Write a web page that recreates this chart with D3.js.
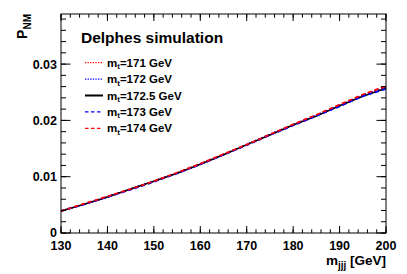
<!DOCTYPE html>
<html>
<head>
<meta charset="utf-8">
<script src="https://cdnjs.cloudflare.com/ajax/libs/d3/7.8.5/d3.min.js"></script>
<style>
  body { margin: 0; background: #fff; }
  svg text { font-family: "Liberation Sans", Arial, sans-serif; }
</style>
</head>
<body>
<div class="wrapper"></div>
<script>
// data (5 GeV steps)
var mjjj = [130, 135, 140, 145, 150, 155, 160, 165, 170, 175, 180, 185, 190, 195, 200];
var p171 = [0.0039, 0.0051, 0.0064, 0.0078, 0.0092, 0.0107, 0.0123, 0.0140, 0.0157, 0.0175, 0.0192, 0.0209, 0.0227, 0.0245, 0.0260];
var p172 = [0.0039, 0.0051, 0.0064, 0.0078, 0.0092, 0.0106, 0.0122, 0.0139, 0.0157, 0.0175, 0.0192, 0.0209, 0.0226, 0.0244, 0.0258];
var p1725 = [0.0039, 0.0051, 0.0064, 0.0078, 0.0092, 0.0106, 0.0122, 0.0139, 0.0157, 0.0174, 0.0192, 0.0208, 0.0226, 0.0243, 0.0257];
var p173 = [0.0039, 0.0051, 0.0064, 0.0077, 0.0091, 0.0106, 0.0122, 0.0139, 0.0156, 0.0174, 0.0191, 0.0208, 0.0225, 0.0243, 0.0256];
var p174 = [0.0039, 0.0052, 0.0065, 0.0078, 0.0092, 0.0107, 0.0123, 0.0140, 0.0157, 0.0175, 0.0193, 0.0210, 0.0228, 0.0246, 0.0261];

var seriesNames = ["171", "172", "172.5", "173", "174"];
var seriesValues = [p171, p172, p1725, p173, p174];
var seriesColors = ["#ff0000", "#0000ff", "#000000", "#0000ff", "#ff0000"];
var seriesDash = ["1.5,2", "1.5,2", null, "4,3", "4,3"];

var xTicks = [130, 140, 150, 160, 170, 180, 190, 200];
var yTicks = [0, 0.01, 0.02, 0.03];

var margin = {top: 14, right: 21, bottom: 41, left: 61},
    width = 407 - margin.left - margin.right,
    height = 274 - margin.top - margin.bottom;

var svg = d3.select(".wrapper")
  .append("svg")
    .attr("width", 407)
    .attr("height", 274)
  .append("g")
    .attr("transform", "translate(" + margin.left + "," + margin.top + ")");

var x = d3.scaleLinear().domain([130, 200]).range([0, width]);
var y = d3.scaleLinear().domain([0, 0.0389]).range([height, 0]);

// curves
var line = d3.line()
    .x(function(d) { return x(d[0]); })
    .y(function(d) { return y(d[1]); });

seriesValues.forEach(function(vals, i) {
  svg.append("path")
    .datum(mjjj.map(function(m, j) { return [m, vals[j]]; }))
    .attr("d", line)
    .style("fill", "none")
    .style("stroke", seriesColors[i])
    .style("stroke-width", i == 2 ? 1.6 : 1.8)
    .style("stroke-dasharray", seriesDash[i]);
});

// frame
svg.append("rect")
  .attr("width", width).attr("height", height)
  .style("fill", "none").style("stroke", "#000").style("stroke-width", 1);

// ticks on all four sides (major + minor)
var xMinor = d3.range(130, 200.1, 2);
var yMinor = d3.range(0, 0.0389, 0.002);

function drawTicks(vals, isX, len) {
  vals.forEach(function(v) {
    if (isX) {
      var px = x(v);
      svg.append("line").attr("x1", px).attr("x2", px).attr("y1", height).attr("y2", height - len).style("stroke", "#000");
      svg.append("line").attr("x1", px).attr("x2", px).attr("y1", 0).attr("y2", len).style("stroke", "#000");
    } else {
      var py = y(v);
      svg.append("line").attr("x1", 0).attr("x2", len).attr("y1", py).attr("y2", py).style("stroke", "#000");
      svg.append("line").attr("x1", width).attr("x2", width - len).attr("y1", py).attr("y2", py).style("stroke", "#000");
    }
  });
}
drawTicks(xMinor, true, 3.7);
drawTicks(xTicks, true, 7);
drawTicks(yMinor, false, 5);
drawTicks(yTicks, false, 9.5);

// tick labels
svg.selectAll(".xlab").data(xTicks).enter().append("text")
  .attr("x", function(d) { return x(d); })
  .attr("y", height + 17)
  .attr("text-anchor", "middle")
  .style("font-size", "12.5px").style("font-weight", "bold")
  .text(function(d) { return d; });

svg.selectAll(".ylab").data(yTicks).enter().append("text")
  .attr("x", -4)
  .attr("y", function(d) { return y(d) + (d == 0 ? 3.5 : 4.5); })
  .attr("text-anchor", "end")
  .style("font-size", "12.5px").style("font-weight", "bold")
  .text(function(d) { return d == 0 ? "0" : d.toFixed(2); });

// axis titles
var xt = svg.append("text")
  .attr("x", width).attr("y", height + 32)
  .attr("text-anchor", "end")
  .style("font-size", "13.5px").style("font-weight", "bold");
xt.append("tspan").text("m");
xt.append("tspan").attr("dy", 3.5).style("font-size", "10px").text("jjj");
xt.append("tspan").attr("dy", -3.5).text(" [GeV]");

var yt = svg.append("text")
  .attr("transform", "translate(" + (-34) + ",0) rotate(-90)")
  .attr("text-anchor", "end")
  .style("font-size", "14px").style("font-weight", "bold");
yt.append("tspan").text("P");
yt.append("tspan").attr("dy", 3.5).style("font-size", "10px").text("NM");

// legend
svg.append("text")
  .attr("x", 20).attr("y", 29)
  .style("font-size", "15.5px").style("font-weight", "bold")
  .text("Delphes simulation");

seriesNames.forEach(function(name, i) {
  var ly = 48.7 + i * 16.4;
  svg.append("line")
    .attr("x1", 24).attr("x2", 42).attr("y1", ly).attr("y2", ly)
    .style("stroke", seriesColors[i])
    .style("stroke-width", i == 2 ? 2 : 1.3)
    .style("stroke-dasharray", seriesDash[i] == null ? null : (i < 2 ? "1.3,1.3" : "3.5,2.5"));
  var t = svg.append("text")
    .attr("x", 46).attr("y", ly + 4)
    .style("font-size", "11.5px").style("font-weight", "bold");
  t.append("tspan").text("m");
  t.append("tspan").attr("dy", 2.5).style("font-size", "8px").text("t");
  t.append("tspan").attr("dy", -2.5).text("=" + name + " GeV");
});
</script>
</body>
</html>
